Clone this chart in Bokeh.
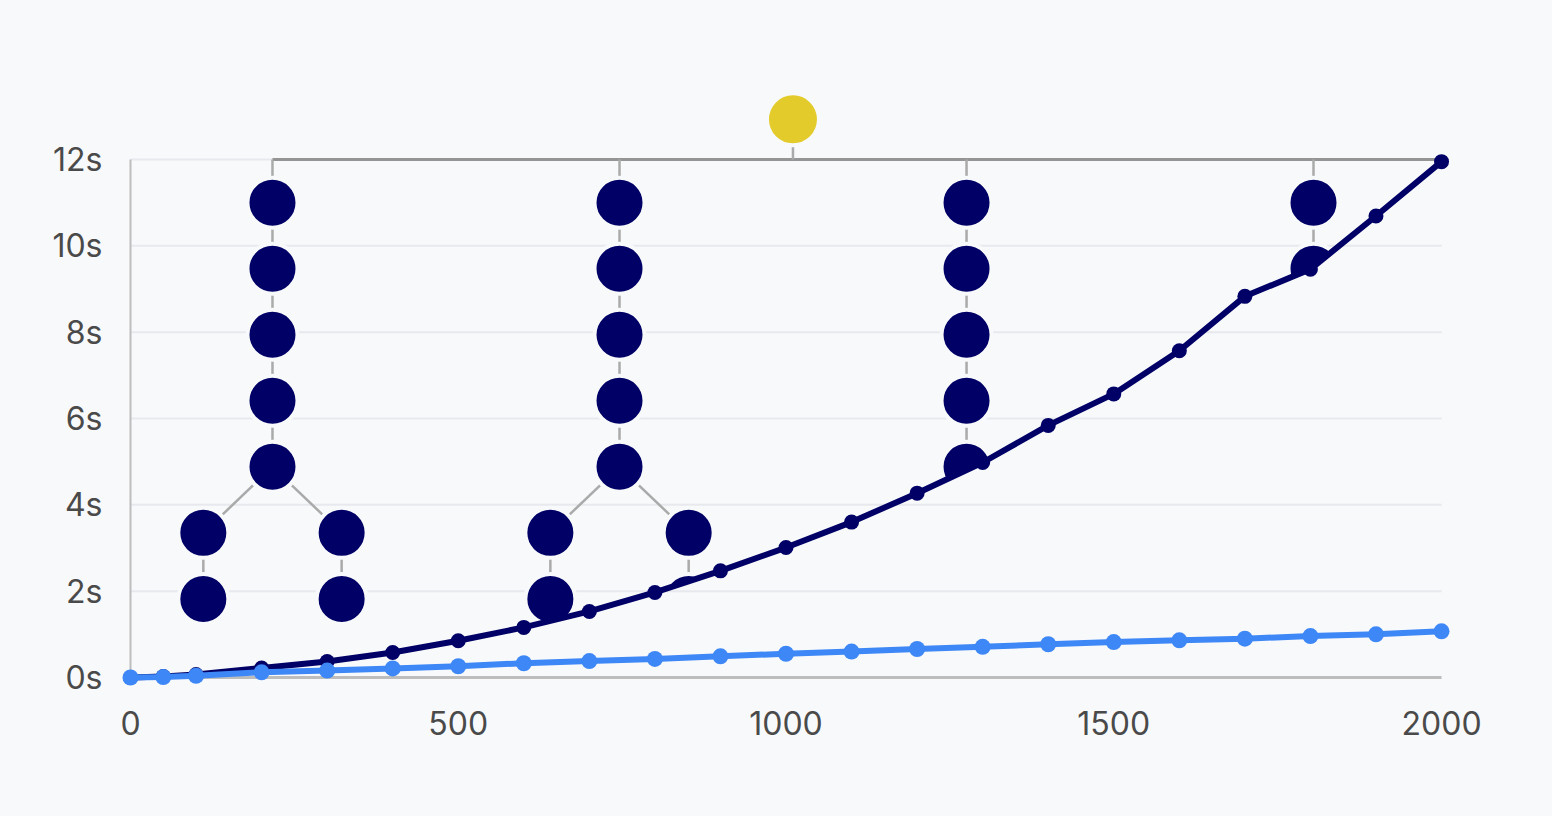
import numpy as np
from bokeh.plotting import figure
from bokeh.models import FixedTicker, PrintfTickFormatter, Range1d
from bokeh.embed import file_html
from bokeh.resources import INLINE

# ---- data ----
x_vals = [0, 50, 100, 200, 300, 400, 500, 600, 700, 800, 900, 1000,
          1100, 1200, 1300, 1400, 1500, 1600, 1700, 1800, 1900, 2000]
dark_y = [0, 0.02, 0.07, 0.22, 0.37, 0.58, 0.85, 1.16, 1.53, 1.97, 2.47, 3.01,
          3.60, 4.27, 4.98, 5.84, 6.57, 7.57, 8.83, 9.46, 10.69, 11.95]
blue_y = [0, 0.01, 0.04, 0.12, 0.16, 0.21, 0.26, 0.33, 0.38, 0.43, 0.49, 0.55,
          0.60, 0.66, 0.71, 0.77, 0.82, 0.86, 0.90, 0.96, 1.00, 1.07]

x_ticks = [0, 500, 1000, 1500, 2000]
y_ticks = [0, 2, 4, 6, 8, 10, 12]

# tree decoration (data units)
tree_cols = [216.6, 746.0, 1275.4, 1804.7]
trunk_levels = [11.0, 9.47, 7.94, 6.41, 4.88]
branch_levels = [3.35, 1.82]
branch_offset = 105.5
bar_y = 12.0
bar_end = 2000
root_x = 1010.6
root_y = 12.93

# ---- style ----
BG = "#f8f9fb"
NAVY = "#000066"
BLUE = "#3d87f6"
YELLOW = "#e2cb2a"
GRID = "#e8e9ee"
CONN = "#aaaaaa"
BAR = "#959595"
AXIS = "#bdbdbd"
LABEL = "#4a4a4a"
FONT = "Inter"

p = figure(width=1552, height=816, output_backend="svg", toolbar_location=None,
           x_range=Range1d(-33.56, 2056.4), y_range=Range1d(-0.487, 14.108),
           min_border_left=108, min_border_right=74, min_border_top=68,
           min_border_bottom=118)
p.background_fill_color = BG
p.border_fill_color = BG
p.outline_line_color = None
p.xgrid.visible = False
p.ygrid.visible = False

for ax in (p.xaxis, p.yaxis):
    ax.axis_line_color = None
    ax.major_tick_line_color = None
    ax.minor_tick_line_color = None
    ax.major_label_text_font = FONT
    ax.major_label_text_font_size = "32px"
    ax.major_label_text_color = LABEL
p.xaxis.ticker = FixedTicker(ticks=x_ticks)
p.yaxis.ticker = FixedTicker(ticks=y_ticks)
p.yaxis.formatter = PrintfTickFormatter(format="%ds")
p.xaxis.major_label_standoff = 6
p.yaxis.major_label_standoff = 0

# grid lines (full)
grid_levels = [g for g in y_ticks if g > 0]
p.segment(x0=[0] * len(grid_levels), y0=grid_levels, x1=[2000] * len(grid_levels),
          y1=grid_levels, line_color=GRID, line_width=2)

# tree connectors
p.segment(x0=[tree_cols[0]], y0=[bar_y], x1=[bar_end], y1=[bar_y], line_color=BAR, line_width=3)
sx0, sy0, sx1, sy1 = [root_x], [bar_y], [root_x], [root_y]
nx, ny = [], []
for c in tree_cols:
    sx0.append(c); sy0.append(bar_y); sx1.append(c); sy1.append(trunk_levels[0])
    for a, b in zip(trunk_levels[:-1], trunk_levels[1:]):
        sx0.append(c); sy0.append(a); sx1.append(c); sy1.append(b)
    for t in trunk_levels:
        nx.append(c); ny.append(t)
    for sgn in (-1, 1):
        cx = c + sgn * branch_offset
        sx0.append(c); sy0.append(trunk_levels[-1]); sx1.append(cx); sy1.append(branch_levels[0])
        for a, b in zip(branch_levels[:-1], branch_levels[1:]):
            sx0.append(cx); sy0.append(a); sx1.append(cx); sy1.append(b)
        for bl in branch_levels:
            nx.append(cx); ny.append(bl)
p.segment(x0=sx0, y0=sy0, x1=sx1, y1=sy1, line_color=CONN, line_width=2.5)

# tree nodes
p.scatter(nx, ny, size=50, fill_color=NAVY, line_color=BG, line_width=4)
p.scatter([root_x], [root_y], size=52, fill_color=YELLOW, line_color=BG, line_width=4)

# mask everything below the dark curve
p.patch(x=x_vals + [2000, 0], y=dark_y + [0, 0], fill_color=BG, line_color=None)

# grid lines below the curve
gx0 = [float(np.interp(g, dark_y, x_vals)) for g in grid_levels]
p.segment(x0=gx0, y0=grid_levels, x1=[2000] * len(grid_levels), y1=grid_levels,
          line_color=GRID, line_width=2)

# axis lines
p.segment(x0=[0, 0], y0=[0, 0], x1=[2000, 0], y1=[0, 12], line_color=AXIS, line_width=[3, 2])

# series
p.line(x_vals, dark_y, line_color=NAVY, line_width=6)
p.scatter(x_vals, dark_y, size=15, fill_color=NAVY, line_color=None)
p.line(x_vals, blue_y, line_color=BLUE, line_width=6)
p.scatter(x_vals, blue_y, size=16, fill_color=BLUE, line_color=None)

html = file_html(p, INLINE)
html = html.replace("<head>", "<head><style>body{background:%s;}</style>" % BG, 1)
open("out.html", "w").write(html)
